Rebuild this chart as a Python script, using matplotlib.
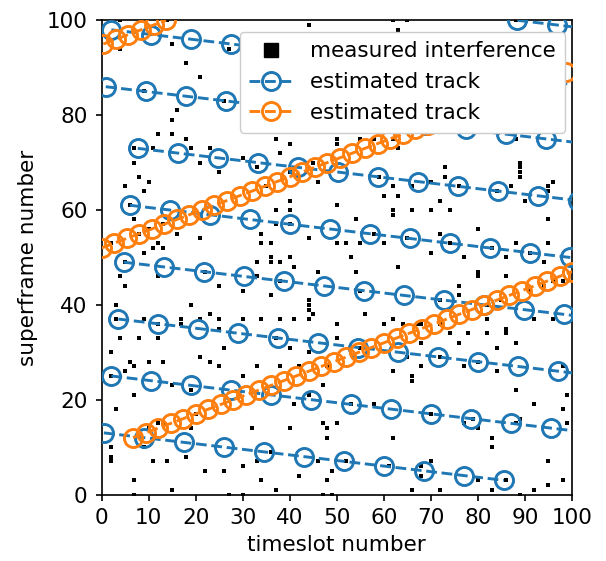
import matplotlib
matplotlib.use("Agg")
import matplotlib.pyplot as plt
from matplotlib.lines import Line2D

# measured interference (timeslot, superframe)
interference_x = [4, 14, 4, 15, 27, 18, 21, 9, 16, 26, 15, 12, 15, 18, 7, 11, 7, 19, 21, 23, 25, 30, 33, 8,
                  44, 62, 65, 63, 37, 40, 50, 50, 38, 55, 58, 62, 63, 45, 40,
                  88, 88, 73, 89, 89, 89, 73,
                  10, 5, 9, 6, 7, 8, 10, 13, 16, 21, 2, 11, 9, 12, 13, 34, 5, 4, 5, 12, 22, 25, 30, 3, 19, 3, 9,
                  23, 17, 17, 21, 25, 30, 25, 4, 8, 12,
                  35, 46, 59, 62, 66, 40, 60, 63, 37, 40, 50, 62, 62, 66, 54, 37, 40, 34, 44, 36, 50, 52, 55, 58,
                  60, 65, 36, 40, 53, 33, 36, 38, 41, 63, 46, 54, 33, 38, 36, 55, 44, 44, 44, 45, 56, 34, 38, 41,
                  44, 50, 60, 62, 64, 67,
                  70, 89, 96, 76, 84, 87, 95, 95, 90, 72, 70, 74, 95, 80, 72, 74, 88, 95, 70, 77, 83, 86, 91, 94,
                  80, 80, 86, 76, 76, 72, 96, 91, 94, 98, 85, 82, 82, 92, 96, 68, 72, 74, 78, 82, 86, 86,
                  12, 2, 6, 7, 10, 13, 21, 26, 23, 25, 30, 5, 2, 15, 19, 7, 3, 12, 20, 19, 2, 2, 2, 9, 11, 14, 18,
                  22, 26, 30, 32, 34, 7, 15, 7, 27, 30, 37, 10, 13,
                  37, 40, 44, 50, 55, 65, 33, 38, 42, 48, 62, 66, 66, 47, 41, 44, 53, 58, 40, 47, 48, 48, 50, 62,
                  36, 33, 46, 52, 61, 49, 42, 48, 47, 49, 66,
                  76, 88, 68, 84, 72, 68, 77, 80, 84, 98, 88, 99, 92, 98, 70, 79, 77, 80, 89, 88, 99, 83, 83, 95,
                  70, 68, 68, 80, 86, 72, 83, 89, 92, 95, 98]
interference_y = [100, 100, 94, 95, 94, 91, 88, 85, 81, 83, 79, 76, 76, 75, 73, 73, 70, 73, 70, 73, 68, 71, 69, 67,
                  99, 100, 100, 98, 75, 74, 75, 74, 72, 75, 75, 75, 73, 70, 68,
                  100, 75, 69, 70, 69, 68, 67,
                  66, 65, 64, 61, 58, 55, 56, 57, 55, 54, 53, 52, 51, 53, 52, 53, 49, 46, 44, 46, 47, 44, 43, 40,
                  40, 37, 37, 38, 37, 36, 37, 37, 37, 35, 33, 33, 36,
                  65, 66, 67, 65, 65, 62, 63, 63, 60, 60, 61, 60, 59, 60, 58, 57, 57, 55, 54, 53, 53, 53, 53, 55,
                  53, 54, 50, 50, 50, 49, 49, 49, 48, 48, 47, 47, 46, 45, 42, 43, 41, 40, 39, 38, 38, 37, 37, 37,
                  37, 36, 36, 37, 36, 36,
                  66, 67, 66, 65, 64, 65, 65, 64, 62, 62, 60, 60, 58, 56, 55, 53, 53, 53, 51, 50, 52, 50, 51, 49,
                  47, 46, 46, 44, 42, 41, 45, 43, 44, 45, 41, 40, 37, 37, 37, 36, 36, 34, 34, 34, 35, 34,
                  33, 30, 28, 27, 28, 28, 29, 31, 28, 27, 25, 26, 25, 23, 22, 21, 18, 15, 17, 14, 10, 8, 7, 10, 7,
                  7, 8, 5, 5, 6, 14, 3, 3, 1, 0, 0, 0, 1, 14, 15,
                  33, 31, 30, 33, 31, 29, 27, 27, 27, 27, 26, 24, 25, 23, 19, 21, 19, 19, 14, 15, 14, 12, 15, 12,
                  9, 7, 7, 7, 6, 5, 4, 3, 0, 0, 1,
                  32, 32, 32, 31, 29, 27, 27, 28, 26, 27, 22, 21, 19, 18, 17, 16, 15, 14, 16, 15, 15, 12, 10, 7,
                  7, 6, 4, 3, 3, 1, 1, 0, 1, 2, 3]

# blue estimated tracks (one marker per superframe)
blue_x = [
    [0.5, 9.0, 17.5, 26.0, 34.5, 43.0, 51.5, 60.0, 68.5, 77.0, 85.5],
    [2.1, 10.6, 19.1, 27.6, 36.1, 44.6, 53.1, 61.6, 70.1, 78.6, 87.1, 95.6, 104.1],
    [3.6, 12.1, 20.6, 29.1, 37.6, 46.1, 54.6, 63.1, 71.6, 80.1, 88.6, 97.1, 105.6],
    [4.7, 13.2, 21.7, 30.2, 38.7, 47.2, 55.7, 64.2, 72.7, 81.2, 89.7, 98.2, 106.7],
    [6.0, 14.5, 23.0, 31.5, 40.0, 48.5, 57.0, 65.5, 74.0, 82.5, 91.0, 99.5, 108.0],
    [7.7, 16.2, 24.7, 33.2, 41.7, 50.2, 58.7, 67.2, 75.7, 84.2, 92.7, 101.2],
    [0.9, 9.4, 17.9, 26.4, 34.9, 43.4, 51.9, 60.4, 68.9, 77.4, 85.9, 94.4, 102.9],
    [2.1, 10.6, 19.1, 27.6, 36.1, 44.6, 53.1, 61.6, 70.1, 78.6, 87.1, 95.6, 104.1],
    [88.4, 96.9, 105.4],
]
blue_y = [
    [13, 12, 11, 10, 9, 8, 7, 6, 5, 4, 3],
    [25, 24, 23, 22, 21, 20, 19, 18, 17, 16, 15, 14, 13],
    [37, 36, 35, 34, 33, 32, 31, 30, 29, 28, 27, 26, 25],
    [49, 48, 47, 46, 45, 44, 43, 42, 41, 40, 39, 38, 37],
    [61, 60, 59, 58, 57, 56, 55, 54, 53, 52, 51, 50, 49],
    [73, 72, 71, 70, 69, 68, 67, 66, 65, 64, 63, 62],
    [86, 85, 84, 83, 82, 81, 80, 79, 78, 77, 76, 75, 74],
    [98, 97, 96, 95, 94, 93, 92, 91, 90, 89, 88, 87, 86],
    [100, 99, 98],
]

# orange estimated tracks
orange_x = [
    [0.4, 3.07, 5.73, 8.4, 11.07, 13.73],
    [0, 2.67, 5.33, 8, 10.67, 13.33, 16, 18.67, 21.33, 24, 26.67, 29.33, 32, 34.67, 37.33, 40, 42.67,
     45.33, 48, 50.67, 53.33, 56, 58.67, 61.33, 64, 66.67, 69.33, 72, 74.67, 77.33, 80, 82.67, 85.33,
     88, 90.67, 93.33, 96, 98.67],
    [6.7, 9.37, 12.03, 14.7, 17.37, 20.03, 22.7, 25.37, 28.03, 30.7, 33.37, 36.03, 38.7, 41.37, 44.03,
     46.7, 49.37, 52.03, 54.7, 57.37, 60.03, 62.7, 65.37, 68.03, 70.7, 73.37, 76.03, 78.7, 81.37, 84.03,
     86.7, 89.37, 92.03, 94.7, 97.37, 100.03],
]
orange_y = [
    [95, 96, 97, 98, 99, 100],
    list(range(52, 90)),
    list(range(12, 48)),
]

plt.rcParams['font.family'] = ['DejaVu Sans']
fs = 15.5

fig = plt.figure(figsize=(6.06, 5.61), dpi=100)
ax = fig.add_axes([0.1675, 0.1185, 0.7764, 0.8453])

ax.plot(interference_x, interference_y, 's', color='k', ms=3.2, mew=0, zorder=2)

for i in range(len(blue_x)):
    ax.plot(blue_x[i], blue_y[i], '--o', color='#1f77b4', mfc='none', ms=13, mew=2.1, lw=2.1, zorder=3)
for i in range(len(orange_x)):
    ax.plot(orange_x[i], orange_y[i], '--o', color='#ff7f0e', mfc='none', ms=13, mew=2.1, lw=2.1, zorder=4)

ax.set_xlim(0, 100)
ax.set_ylim(0, 100)
ax.set_xticks(range(0, 101, 10))
ax.set_yticks(range(0, 101, 20))
ax.tick_params(labelsize=fs, length=4.5, width=1.2, pad=5.5)
for s in ax.spines.values():
    s.set_linewidth(1.2)
ax.set_xlabel("timeslot number", fontsize=fs, labelpad=5)
ax.set_ylabel("superframe number", fontsize=fs, labelpad=6)

handles = [
    Line2D([], [], marker='s', color='k', ls='none', ms=10),
    Line2D([], [], marker='o', color='#1f77b4', ls='--', mfc='none', ms=13, mew=2.1, lw=2.1),
    Line2D([], [], marker='o', color='#ff7f0e', ls='--', mfc='none', ms=13, mew=2.1, lw=2.1),
]
labels = ["measured interference", "estimated track", "estimated track"]
ax.legend(handles, labels, loc='upper right', bbox_to_anchor=(0.985, 0.976), fontsize=fs,
          framealpha=1, labelspacing=0.5, borderaxespad=0, borderpad=0.45)

fig.savefig("out.png", dpi=100)
